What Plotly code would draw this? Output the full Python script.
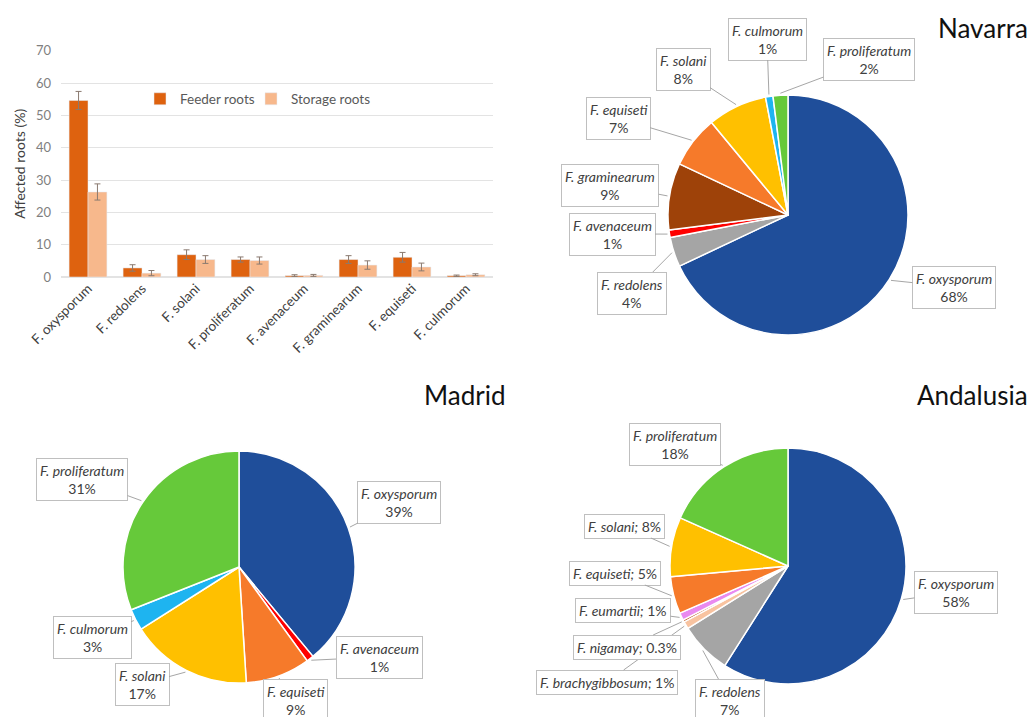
import math
import plotly.graph_objects as go

W, H = 1032, 717

# ---- Bar chart: percentage of affected roots per species ----
species = ["F. oxysporum", "F. redolens", "F. solani", "F. proliferatum",
           "F. avenaceum", "F. graminearum", "F. equiseti", "F. culmorum"]
feeder = [54.6, 2.8, 6.9, 5.4, 0.4, 5.4, 6.1, 0.4]
feeder_err = [2.8, 1.0, 1.5, 0.8, 0.3, 1.2, 1.5, 0.2]
storage = [26.3, 1.2, 5.4, 5.1, 0.5, 3.7, 3.1, 0.7]
storage_err = [2.5, 0.8, 1.2, 1.1, 0.3, 1.3, 1.2, 0.3]
y_ticks = [0, 10, 20, 30, 40, 50, 60, 70]

# ---- Pie charts: species share per region ----
navarra_species = ["F. oxysporum", "F. redolens", "F. avenaceum", "F. graminearum",
                   "F. equiseti", "F. solani", "F. culmorum", "F. proliferatum"]
navarra_pct = [68, 4, 1, 9, 7, 8, 1, 2]

madrid_species = ["F. oxysporum", "F. avenaceum", "F. equiseti", "F. solani",
                  "F. culmorum", "F. proliferatum"]
madrid_pct = [39, 1, 9, 17, 3, 31]

andalusia_species = ["F. oxysporum", "F. redolens", "F. brachygibbosum", "F. nigamay",
                     "F. eumartii", "F. equiseti", "F. solani", "F. proliferatum"]
andalusia_pct = [58, 7, 1, 0.3, 1, 5, 8, 18]

colors = {
    "F. oxysporum": "#1F4E9A",
    "F. redolens": "#A5A5A5",
    "F. avenaceum": "#FF0000",
    "F. graminearum": "#9E4209",
    "F. equiseti": "#F67A2A",
    "F. solani": "#FFC000",
    "F. culmorum": "#1EB4F0",
    "F. proliferatum": "#66C93A",
    "F. brachygibbosum": "#F8C3A0",
    "F. nigamay": "#B5480C",
    "F. eumartii": "#E98AF0",
}

FONT = "Lato, 'Open Sans', sans-serif"
TXT = "#404040"

fig = go.Figure()

fig.add_trace(go.Bar(
    x=species, y=feeder, name="Feeder roots", marker_color="#DE620F", legend="legend",
    error_y=dict(type="data", array=feeder_err, color="#8A7A70", thickness=1, width=3),
))
fig.add_trace(go.Bar(
    x=species, y=storage, name="Storage roots", marker_color="#F7B88C", legend="legend2",
    error_y=dict(type="data", array=storage_err, color="#8A7A70", thickness=1, width=3),
))


def px_x(p):
    return p / W


def px_y(p):
    return 1 - p / H


# pie placement: centre (px), radius (px), label box centres (px) and format
pies = [
    dict(name="Navarra", sp=navarra_species, val=navarra_pct, cx=788, cy=215, r=120,
         boxes=[(954, 287), (632, 293), (612, 234), (610, 185),
                (618, 118), (683, 70), (767, 39), (869, 60)],
         inline=[False] * 8,
         title=(1030, 28)),
    dict(name="Madrid", sp=madrid_species, val=madrid_pct, cx=239, cy=567, r=116,
         boxes=[(399, 502), (379, 657), (295, 700), (142, 684), (92, 637), (82, 479)],
         inline=[False] * 6,
         title=(508, 395)),
    dict(name="Andalusia", sp=andalusia_species, val=andalusia_pct, cx=788, cy=566, r=118,
         boxes=[(956, 592), (730, 700), (607, 682), (627, 647),
                (623, 610), (615, 573), (624, 526), (675, 445)],
         inline=[False, False, True, True, True, True, True, False],
         title=(1030, 395)),
]

annotations = []
for p in pies:
    cx, cy, r = p["cx"], p["cy"], p["r"]
    fig.add_trace(go.Pie(
        labels=p["sp"], values=p["val"], sort=False, direction="clockwise",
        rotation=0, textinfo="none", hoverinfo="label+percent",
        marker=dict(colors=[colors[s] for s in p["sp"]], line=dict(color="white", width=1.5)),
        domain=dict(x=[px_x(cx - r), px_x(cx + r)], y=[px_y(cy + r), px_y(cy - r)]),
        showlegend=False,
    ))
    total = sum(p["val"])
    cum = 0.0
    for s, v, (bx, by), inl in zip(p["sp"], p["val"], p["boxes"], p["inline"]):
        mid = (cum + v / 2) / total * 2 * math.pi
        cum += v
        tx = cx + (r + 2) * math.sin(mid)
        ty = cy - (r + 2) * math.cos(mid)
        pct = f"{v:g}%"
        text = f"<i>{s};</i> {pct}" if inl else f"<i>{s}</i><br>{pct}"
        annotations.append(dict(
            x=px_x(tx), y=px_y(ty), xref="paper", yref="paper",
            ax=bx - tx, ay=by - ty, axref="pixel", ayref="pixel",
            text=text, showarrow=True, arrowhead=0, arrowwidth=1,
            arrowcolor="#A6A6A6", standoff=0,
            bordercolor="#BFBFBF", borderwidth=1, borderpad=3, bgcolor="white",
            font=dict(family=FONT, size=14, color=TXT), align="center",
        ))
    tx_, ty_ = p["title"]
    annotations.append(dict(
        x=px_x(tx_), y=px_y(ty_), xref="paper", yref="paper", xanchor="right",
        yanchor="middle", text=p["name"], showarrow=False,
        font=dict(family=FONT, size=26, color="#111111"),
    ))

legend_style = dict(orientation="h", y=px_y(99), xanchor="left", yanchor="middle",
                    font=dict(size=13.5, color="#595959"), bgcolor="rgba(0,0,0,0)",
                    itemwidth=30)

fig.update_layout(
    width=W, height=H, margin=dict(l=0, r=0, t=0, b=0, autoexpand=False),
    paper_bgcolor="white", plot_bgcolor="white",
    font=dict(family=FONT, color="#595959"),
    barmode="group", bargap=0.3, bargroupgap=0,
    xaxis=dict(domain=[px_x(61), px_x(493)], showgrid=False, showline=False,
               automargin=False,
               tickangle=-45, tickfont=dict(size=13.5, color="#404040"), ticks=""),
    yaxis=dict(domain=[px_y(277), px_y(50.7)], range=[0, 70], tickvals=y_ticks,
               automargin=False, ticklabelstandoff=9,
               showgrid=True, gridcolor="#E3E3E3", gridwidth=1, zeroline=True,
               zerolinecolor="#E3E3E3", tickfont=dict(size=13, color="#7F7F7F"),
               title=dict(text="Affected roots (%)", font=dict(size=14, color="#404040"),
                          standoff=7)),
    legend=dict(x=px_x(140), **legend_style),
    legend2=dict(x=px_x(251), **legend_style),
    annotations=annotations,
)

fig.write_html("out.html")
